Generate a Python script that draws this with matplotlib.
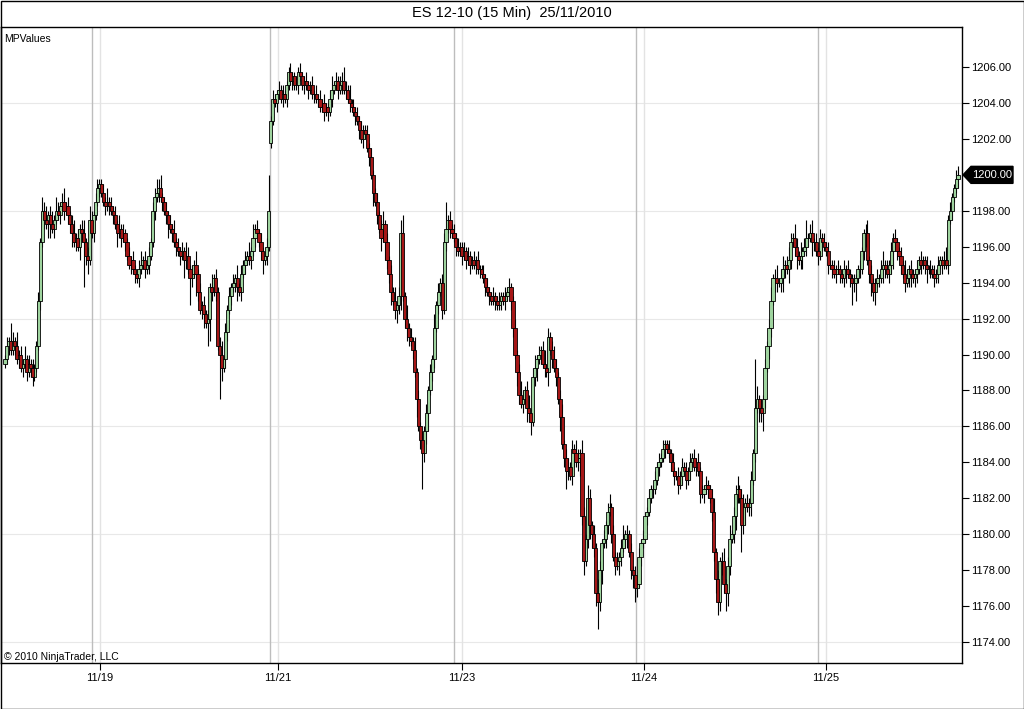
import numpy as np
import matplotlib
matplotlib.use("Agg")
import matplotlib.pyplot as plt
from matplotlib.patches import Rectangle, Polygon
from matplotlib.transforms import blended_transform_factory

# ---------------- data ----------------
title = "ES 12-10 (15 Min)  25/11/2010"
first_open = 1189.5

close_1118 = [1189.75, 1190.5, 1190.75, 1190.25, 1190.75, 1190.5, 1189.75, 1190.0, 1189.25, 1189.5,
              1189.75, 1189.0, 1189.5, 1189.25, 1188.75, 1189.25, 1190.5, 1193.0, 1196.25, 1198.0,
              1197.5, 1197.25, 1197.75, 1197.25, 1197.0, 1197.5, 1198.0, 1197.75, 1198.25, 1198.5,
              1198.0, 1198.25, 1197.75, 1197.25, 1196.75, 1196.25, 1196.5, 1196.0, 1197.0, 1196.75,
              1196.25, 1195.5, 1195.25, 1197.5]
close_1119 = [1196.75, 1197.75, 1198.5, 1199.25, 1199.5, 1199.0, 1198.5, 1198.25, 1198.5, 1198.25,
              1198.0, 1197.75, 1197.25, 1196.75, 1197.0, 1196.5, 1196.75, 1196.25, 1195.5, 1195.0,
              1195.25, 1194.75, 1194.5, 1194.25, 1194.75, 1195.0, 1195.25, 1194.75, 1195.0, 1195.5,
              1196.25, 1198.0, 1198.75, 1199.0, 1199.25, 1198.75, 1198.5, 1198.0, 1197.75, 1197.25,
              1197.0, 1196.75, 1196.25, 1196.0, 1195.75, 1195.5, 1195.75, 1195.25, 1195.5, 1194.75,
              1194.25, 1194.5, 1195.0, 1194.5, 1193.5, 1192.5, 1192.75, 1192.25, 1191.75, 1192.0,
              1193.75, 1193.5, 1194.25, 1193.5, 1190.5, 1190.0, 1189.25, 1189.75, 1191.25, 1192.5,
              1193.25, 1193.75, 1194.0, 1194.25, 1193.75, 1193.5, 1194.5, 1195.0, 1195.25, 1195.5,
              1195.25, 1195.75, 1196.5, 1197.0, 1196.75, 1196.25, 1195.75, 1195.25, 1195.5, 1196.0,
              1198.0]
close_1122 = [1203.0, 1204.25, 1204.0, 1204.5, 1204.75, 1204.25, 1204.5, 1204.25, 1205.0, 1205.75,
              1205.25, 1205.5, 1205.0, 1205.0, 1205.75, 1205.5, 1205.0, 1205.25, 1205.0, 1204.75,
              1205.0, 1204.5, 1204.5, 1204.25, 1204.25, 1203.75, 1204.0, 1203.5, 1203.75, 1203.5,
              1204.25, 1204.75, 1205.0, 1205.25, 1204.75, 1205.0, 1205.25, 1204.75, 1204.75, 1204.25,
              1204.0, 1203.75, 1203.5, 1203.25, 1203.0, 1202.5, 1202.0, 1202.5, 1202.25, 1201.5,
              1201.0, 1200.0, 1199.0, 1198.5, 1197.75, 1197.0, 1196.5, 1197.25, 1196.25, 1195.25,
              1194.5, 1193.5, 1193.0, 1192.5, 1192.75, 1193.25, 1196.75, 1193.25, 1192.0, 1191.5,
              1191.0, 1190.75, 1190.25, 1189.0, 1187.5, 1186.0, 1185.25, 1184.5, 1185.75, 1186.75,
              1188.0, 1189.0, 1189.75, 1191.5, 1192.75, 1193.5, 1194.0, 1192.5, 1196.25, 1197.0,
              1197.5, 1197.0, 1196.75]
close_1123 = [1196.5, 1196.0, 1195.75, 1196.0, 1195.5, 1195.75, 1195.25, 1195.5, 1195.0, 1195.25,
              1195.0, 1195.25, 1194.75, 1194.75, 1194.5, 1194.25, 1193.75, 1193.5, 1193.25, 1193.0,
              1193.25, 1193.0, 1192.75, 1193.0, 1193.25, 1193.0, 1193.25, 1193.5, 1193.75, 1193.0,
              1191.5, 1190.0, 1189.0, 1187.75, 1187.25, 1187.5, 1188.0, 1187.0, 1186.75, 1186.25,
              1188.75, 1189.25, 1189.75, 1190.0, 1190.25, 1189.5, 1189.25, 1189.0, 1191.0, 1190.25,
              1189.75, 1189.25, 1188.75, 1187.5, 1186.5, 1185.0, 1184.25, 1183.5, 1183.75, 1183.25,
              1184.75, 1184.5, 1184.0, 1184.25, 1184.5, 1181.0, 1178.5, 1179.75, 1182.0, 1180.5,
              1180.0, 1179.25, 1176.75, 1176.25, 1178.0, 1179.5, 1179.75, 1180.5, 1181.25, 1181.5,
              1180.0, 1178.75, 1178.25, 1178.5, 1178.75, 1179.25, 1179.75, 1180.0, 1180.0, 1179.0,
              1178.0, 1177.75, 1177.0]
close_1124 = [1177.25, 1178.75, 1179.5, 1179.75, 1181.0, 1181.25, 1182.0, 1182.5, 1182.5, 1183.0,
              1183.75, 1184.0, 1184.25, 1184.75, 1185.0, 1184.75, 1184.5, 1184.0, 1183.5, 1183.25,
              1183.25, 1182.75, 1183.25, 1183.75, 1183.5, 1183.0, 1183.5, 1184.0, 1184.25, 1183.75,
              1184.0, 1183.5, 1182.25, 1182.25, 1182.5, 1182.75, 1182.5, 1182.0, 1181.25, 1179.0,
              1177.5, 1176.25, 1178.5, 1178.5, 1177.25, 1176.75, 1178.25, 1179.75, 1180.0, 1181.0,
              1182.25, 1182.5, 1182.0, 1180.5, 1181.5, 1181.75, 1181.5, 1181.75, 1183.0, 1184.5,
              1187.0, 1187.5, 1187.0, 1186.75, 1187.5, 1189.25, 1190.5, 1191.5, 1193.0, 1194.25,
              1194.25, 1194.0, 1194.0, 1194.25, 1194.75, 1195.0, 1194.75, 1195.25, 1196.25, 1196.5,
              1196.0, 1195.5, 1195.25, 1195.5, 1195.75, 1196.0, 1196.5, 1196.5, 1196.75, 1196.25,
              1196.25, 1195.75]
close_1125 = [1195.5, 1196.5, 1196.25, 1196.0, 1195.75, 1195.0, 1195.0, 1194.75, 1194.5, 1194.75,
              1194.75, 1194.5, 1194.25, 1194.75, 1194.75, 1194.5, 1194.25, 1194.0, 1194.0, 1194.25,
              1194.75, 1194.75, 1195.75, 1196.75, 1196.75, 1195.25, 1194.5, 1194.0, 1193.5, 1194.0,
              1194.25, 1194.25, 1194.75, 1195.0, 1194.75, 1194.5, 1195.0, 1195.75, 1196.5, 1196.25,
              1195.75, 1195.5, 1195.0, 1194.5, 1194.0, 1194.25, 1194.75, 1194.5, 1194.25, 1194.5,
              1194.75, 1195.25, 1195.0, 1195.25, 1195.0, 1194.75, 1194.75, 1194.75, 1194.5, 1194.25,
              1194.5, 1195.0, 1195.25, 1195.0, 1195.25, 1195.0, 1197.5, 1198.0, 1198.75, 1199.25,
              1199.75, 1200.0]

# wick lengths beyond the body, in ticks of 0.25
up_1118 = [1,2,1,4,2,1,3,1,2,1, 3,1,2,1,2,1,1,2,1,3, 2,3,1,2,3,1,3,2,1,2, 3,1,2,1,2,3,1,2,1,2, 3,1,2,3]
dn_1118 = [1,1,2,1,1,2,1,2,1,2, 1,2,1,2,2,1,1,1,2,1, 2,1,3,3,1,2,1,1,2,1, 2,1,2,2,3,1,2,1,3,2, 6,2,3,1]
up_1119 = [2,1,2,2,1,1,2,1,3,1, 2,1,2,1,3,1,2,1,1,2, 1,2,1,1,2,3,1,2,1,2, 1,2,2,1,2,3,1,1,2,1,
           2,1,3,1,2,1,2,1,3,2, 1,2,1,3,1,2,1,2,1,2, 1,3,1,2,1,2,3,1,2,1, 2,1,2,1,3,1,2,1,2,1,
           3,1,4,1,2,1,2,1,1,2, 4]
dn_1119 = [1,2,1,1,2,1,1,2,1,2, 1,2,1,3,1,2,1,2,1,1, 2,1,2,3,2,1,1,2,1,2, 1,1,2,1,2,1,2,1,2,3,
           1,2,1,2,1,2,1,4,2,1, 3,2,1,5,2,1,2,3,1,3, 5,2,1,2,1,2,3,1,2,2, 1,2,1,2,3,1,2,1,2,1,
           1,2,1,2,1,1,2,3,1,2, 1]
up_1122 = [1,2,1,1,2,1,2,1,1,1, 2,1,1,2,1,2,1,1,2,1, 1,2,1,2,1,2,1,2,1,1, 2,3,1,2,1,2,1,3,2,1,
           3,1,2,1,2,1,2,1,1,2, 1,2,1,1,2,1,2,3,1,2, 1,2,1,3,1,2,1,4,1,3, 1,2,1,3,1,2,1,2,1,2,
           1,2,1,3,1,2,1,2,2,3, 1,2,1]
dn_1122 = [2,1,1,2,1,1,2,1,2,1, 1,2,1,1,2,1,1,2,1,2, 1,1,2,1,2,1,1,2,1,2, 1,2,1,1,2,1,2,1,2,1,
           2,1,1,2,1,2,1,2,1,1, 2,1,3,1,2,1,3,1,4,2, 2,3,1,2,3,2,3,1,2,3, 2,1,2,1,4,1,2,1,2,3,
           4,1,2,2,1,2,1,2,1,2, 1,2,1]
up_1123 = [2,1,2,1,1,2,1,2,1,1, 2,1,2,1,1,2,1,2,1,1, 2,1,1,2,1,1,2,1,2,1, 1,2,1,2,3,2,1,2,3,1,
           2,3,1,2,1,2,3,1,2,1, 2,3,2,1,2,3,1,2,2,1, 2,1,3,2,1,3,2,1,3,2, 1,2,1,3,2,1,2,1,2,3,
           1,2,1,2,1,2,3,1,2,1, 2,1,2]
dn_1123 = [1,2,1,1,2,1,2,1,2,1, 1,2,1,2,1,1,2,1,2,1, 1,2,1,1,2,1,2,1,1,2, 2,1,3,2,1,2,1,3,2,3,
           1,2,3,1,2,1,2,1,3,1, 2,1,2,1,3,1,2,4,2,1, 2,3,1,2,4,2,3,1,2,3, 3,2,3,1,2,3,1,2,2,1,
           2,1,2,1,3,2,1,2,3,1, 2,3,2]
up_1124 = [1,2,1,2,1,1,2,1,1,2, 1,2,1,2,1,1,2,1,2,1, 1,2,1,2,1,2,1,2,1,2, 1,2,1,2,1,2,1,1,2,3,
           1,2,1,2,3,1,2,3,1,2, 2,3,1,2,3,1,2,1,2,1, 2,3,1,2,1,2,1,2,3,1, 2,3,1,2,3,1,2,3,2,1,
           3,2,1,3,1,2,4,1,2,3, 1,2]
dn_1124 = [2,1,2,1,1,2,1,1,2,1, 1,2,1,1,2,1,1,2,1,2, 1,2,1,2,1,2,1,2,1,1, 2,1,2,1,2,1,2,1,2,2,
           3,1,2,3,2,1,3,2,1,2, 3,2,1,3,2,4,1,2,3,1, 2,1,3,2,4,2,1,3,2,1, 3,2,1,2,3,2,1,3,2,1,
           2,3,1,2,3,1,2,2,1,3, 2,1]
up_1125 = [1,2,1,2,1,2,1,1,2,1, 2,1,1,2,1,2,1,1,2,1, 1,2,1,1,2,3,1,2,1,1, 2,1,2,3,1,2,1,2,1,2,
           1,1,2,1,3,2,1,2,1,1, 2,1,2,1,1,2,1,2,1,2, 1,2,1,1,2,3,1,2,1,1, 2,2]
dn_1125 = [2,1,2,1,1,2,1,2,1,2, 1,2,1,2,3,1,2,1,2,4, 1,2,1,2,3,1,2,1,2,3, 1,2,1,3,2,1,2,2,4,1,
           2,1,2,1,2,1,2,3,1,2, 2,1,2,1,2,3,1,2,1,2, 1,2,1,2,1,1,2,1,2,1, 1,2]

# notable extremes (bar index -> price)
high_marks = {19: 1198.75, 47: 1199.75, 77: 1199.75, 126: 1197.25, 134: 1200.0, 144: 1206.0,
              171: 1205.75, 201: 1197.5, 224: 1198.5, 276: 1191.5, 335: 1185.25, 381: 1189.75,
              484: 1200.5}
low_marks = {14: 1188.25, 40: 1193.75, 67: 1194.0, 94: 1192.75, 103: 1190.5, 109: 1187.5,
             131: 1194.5, 135: 1201.5, 212: 1182.5, 267: 1185.5, 301: 1174.75, 320: 1176.25,
             362: 1175.5, 366: 1175.75, 374: 1179.0, 430: 1192.75, 440: 1193.25}

session_breaks = [44.3, 134.6, 228.0, 320.5, 412.9]
date_labels = ["11/19", "11/21", "11/23", "11/24", "11/25"]
y_ticks = np.arange(1174, 1207, 2)
y_grid = np.arange(1174, 1207, 6)

# ---------------- build OHLC ----------------
closes = np.array(close_1118 + close_1119 + close_1122 + close_1123 + close_1124 + close_1125)
up = np.array(up_1118 + up_1119 + up_1122 + up_1123 + up_1124 + up_1125) * 0.25
dn = np.array(dn_1118 + dn_1119 + dn_1122 + dn_1123 + dn_1124 + dn_1125) * 0.25
opens = np.concatenate([[first_open], closes[:-1]])
opens[135] = 1201.75  # gap open of the Sunday session
highs = np.maximum(opens, closes) + up
lows = np.minimum(opens, closes) - dn
for k, v in high_marks.items():
    highs[k] = v
for k, v in low_marks.items():
    lows[k] = v
x = np.arange(len(closes))

# ---------------- figure ----------------
W, H = 1024, 709
fig = plt.figure(figsize=(W / 100, H / 100), dpi=100)
fig.patch.set_facecolor("white")
ax = fig.add_axes([1 / W, (H - 663) / H, 961 / W, (663 - 27) / H])

FONT = "Liberation Sans"

# grid & session lines
for yv in y_grid:
    ax.axhline(yv, color="#e8e8e8", lw=0.8, zorder=0)
for sb in session_breaks:
    ax.axvline(sb, color="#bdbdbd", lw=1.0, zorder=0)
    ax.axvline(sb + 4, color="#e3e3e3", lw=1.0, zorder=0)

up_col = "#9fd49f"
dn_col = "#a61717"
is_up = closes >= opens
ax.vlines(x, lows, highs, color="black", lw=0.8, zorder=2)
body_bottom = np.minimum(opens, closes)
body_h = np.abs(closes - opens)
ax.bar(x[is_up], body_h[is_up], bottom=body_bottom[is_up], width=1.6,
       color=up_col, edgecolor="black", linewidth=0.6, zorder=3)
ax.bar(x[~is_up], body_h[~is_up], bottom=body_bottom[~is_up], width=1.6,
       color=dn_col, edgecolor="black", linewidth=0.6, zorder=3)

ax.set_xlim(-2.0, 486.0)
ax.set_ylim(1172.83, 1208.23)

ax.yaxis.tick_right()
ax.set_yticks(y_ticks)
ax.set_yticklabels([f"{v:.2f}" for v in y_ticks], fontsize=8, family=FONT)
ax.tick_params(axis="y", direction="out", length=5, width=0.8, pad=1.5, colors="black")
ax.set_xticks([sb + 4 for sb in session_breaks])
ax.set_xticklabels(date_labels, fontsize=8, family=FONT)
ax.tick_params(axis="x", direction="out", length=5, width=0.8, pad=2)
for s in ax.spines.values():
    s.set_linewidth(1.0)
    s.set_color("black")

ax.text(0.003, (663 - 39) / 636, "MPValues", transform=ax.transAxes, fontsize=7.5,
        family=FONT, va="center", ha="left")
ax.text(0.003, (663 - 657) / 636, "\u00a9 2010 NinjaTrader, LLC", transform=ax.transAxes,
        fontsize=7.5, family=FONT, va="center", ha="left")
fig.text(0.5, 1 - 13 / H, title, fontsize=10.5, family=FONT, ha="center", va="center")

# last price marker
last = closes[-1]
tr = blended_transform_factory(ax.transAxes, ax.transData)
px = 1 / 961
hh = 8.5 / 17.97
poly = Polygon([[1 + 1 * px, last], [1 + 9 * px, last + hh], [1 + 51 * px, last + hh],
                [1 + 51 * px, last - hh], [1 + 9 * px, last - hh]], closed=True,
               transform=tr, facecolor="black", edgecolor="black", clip_on=False, zorder=5)
ax.add_patch(poly)
ax.text(1 + 30 * px, last, f"{last:.2f}", transform=tr, color="white", fontsize=8,
        family=FONT, ha="center", va="center", zorder=6, clip_on=False)

# figure border
fig.patches.append(Rectangle((0.5 / W, 0.5 / H), (W - 1) / W, (H - 1) / H, transform=fig.transFigure,
                             fill=False, edgecolor="black", lw=1.0))

fig.savefig("out.png", dpi=100)
